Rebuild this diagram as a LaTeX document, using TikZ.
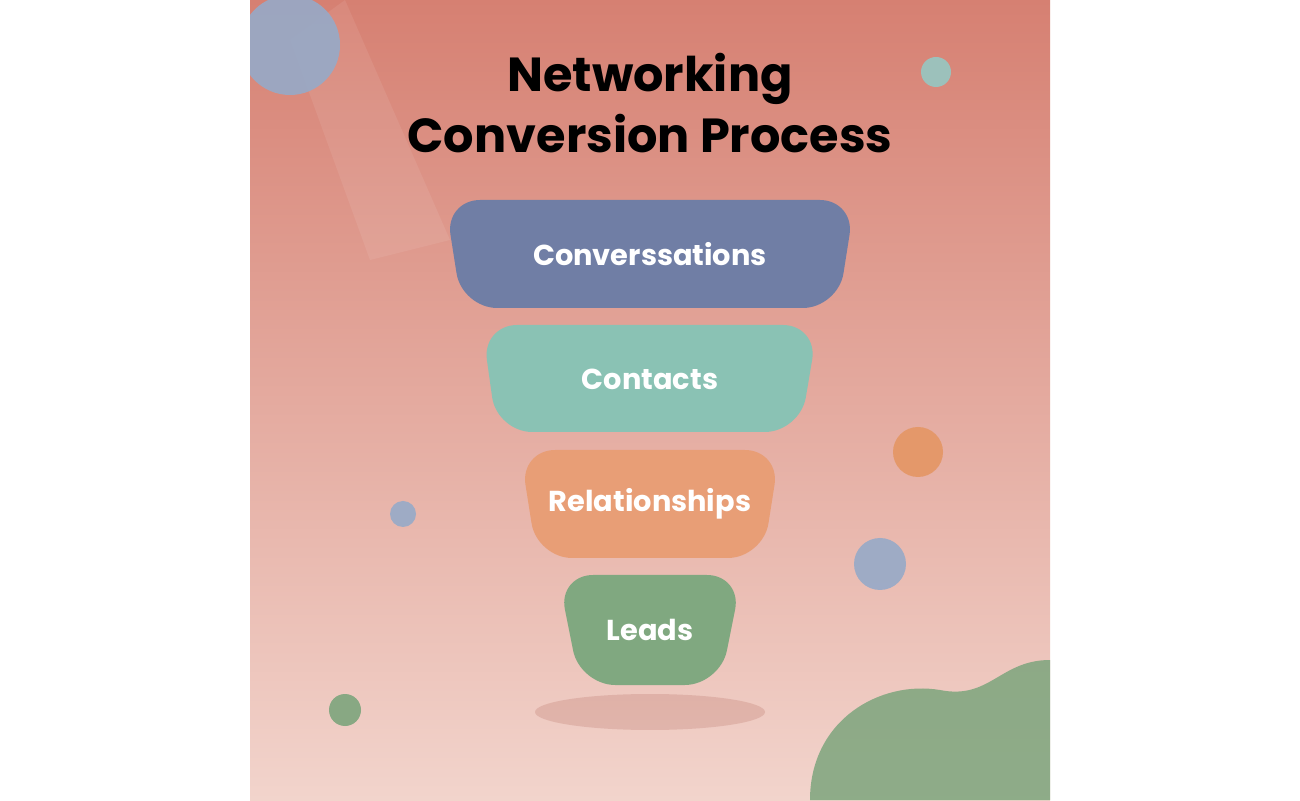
\documentclass[tikz,border=0pt]{standalone}
\usepackage{fontspec}
\setmainfont{Poppins}
\usetikzlibrary{positioning}
\definecolor{bgtop}{RGB}{214,128,114}
\definecolor{bgbot}{RGB}{242,212,204}
\definecolor{convcol}{RGB}{112,126,165}
\definecolor{contcol}{RGB}{138,194,180}
\definecolor{relcol}{RGB}{232,158,118}
\definecolor{leadcol}{RGB}{128,168,128}
\definecolor{dotblue}{RGB}{150,170,200}
\definecolor{dotteal}{RGB}{150,200,195}
\definecolor{dotorange}{RGB}{228,150,100}
\definecolor{dotgreen}{RGB}{125,165,125}
\tikzset{
  stage/.style={fill=#1,rounded corners=10pt,draw=none},
  label/.style={text=white,font=\bfseries\fontsize{8.2}{10}\selectfont},
  dot/.style={fill=#1,draw=none,opacity=.9}
}
\begin{document}
\begin{tikzpicture}[x=1cm,y=1cm]
\useasboundingbox (0,0) rectangle (13,8);
\fill[white] (0,0) rectangle (13,8);
% painted square
\begin{scope}
\clip (2.5,0) rectangle (10.5,8);
\shade[top color=bgtop,bottom color=bgbot] (2.5,0) rectangle (10.5,8);
\fill[white,opacity=.08] (2.9,7.6) -- (3.45,8) -- (4.5,5.6) -- (3.7,5.4) -- cycle;
\fill[dot=dotblue] (2.9,7.55) circle (0.5);
\fill[dotgreen,opacity=.85] (8.1,0) .. controls (8.1,0.8) and (8.8,1.2) .. (9.4,1.1)
  .. controls (9.9,1.0) and (10.0,1.4) .. (10.5,1.4) -- (10.5,0) -- cycle;
\end{scope}
\fill[dot=dotteal] (9.36,7.28) circle (0.15);
\fill[dot=dotorange] (9.18,3.48) circle (0.25);
\fill[dot=dotblue] (4.03,2.86) circle (0.13);
\fill[dot=dotblue] (8.8,2.36) circle (0.26);
\fill[dot=dotgreen] (3.45,0.9) circle (0.16);
% title
\node[font=\bfseries\fontsize{13.6}{17.5}\selectfont,align=center] (title) at (6.5,6.97) {Networking\\Conversion Process};
% shadow
\fill[bgtop!85!black,opacity=.25] (6.5,0.88) ellipse (1.15 and 0.18);
% funnel
\fill[stage=convcol] (4.45,6.0) -- (8.55,6.0) -- (8.38,4.92) -- (4.62,4.92) -- cycle;
\fill[stage=contcol] (4.82,4.75) -- (8.18,4.75) -- (8.0,3.68) -- (4.97,3.68) -- cycle;
\fill[stage=relcol] (5.2,3.5) -- (7.8,3.5) -- (7.63,2.42) -- (5.37,2.42) -- cycle;
\fill[stage=leadcol] (5.58,2.25) -- (7.42,2.25) -- (7.2,1.15) -- (5.8,1.15) -- cycle;
\node[label] (conv) at (6.5,5.46) {Converssations};
\node[label] (cont) at (6.5,4.21) {Contacts};
\node[label] (rel) at (6.5,2.96) {Relationships};
\node[label] (leads) at (6.5,1.70) {Leads};
\end{tikzpicture}
\end{document}
